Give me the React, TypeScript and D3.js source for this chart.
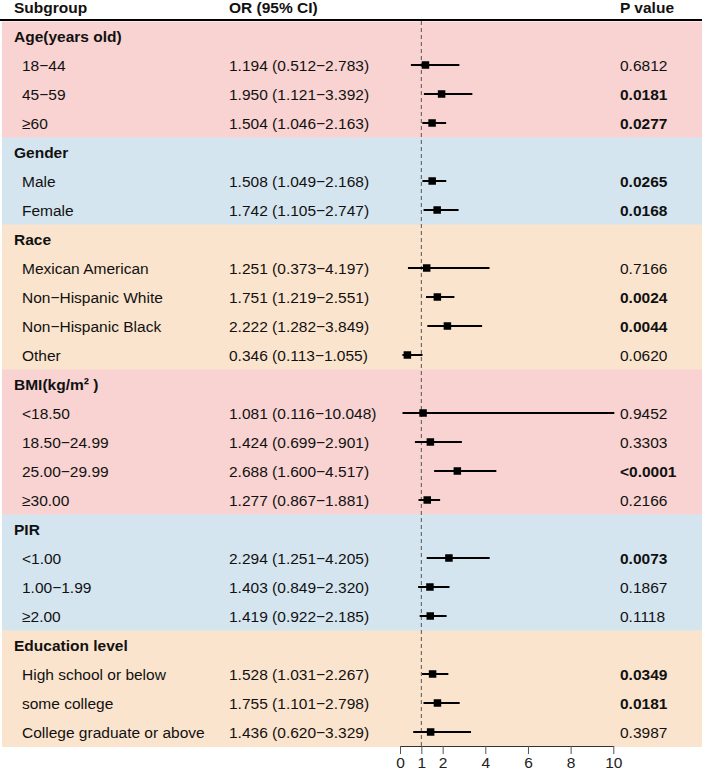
import { useEffect, useRef } from 'react'
import * as d3 from 'd3'

// rows of the forest plot, in drawing order; group headers have no estimate
const labels = [
  'Age(years old)', '18−44', '45−59', '≥60',
  'Gender', 'Male', 'Female',
  'Race', 'Mexican American', 'Non−Hispanic White', 'Non−Hispanic Black', 'Other',
  'BMI(kg/m² )', '<18.50', '18.50−24.99', '25.00−29.99', '≥30.00',
  'PIR', '<1.00', '1.00−1.99', '≥2.00',
  'Education level', 'High school or below', 'some college', 'College graduate or above',
]
const isHeader = [
  true, false, false, false,
  true, false, false,
  true, false, false, false, false,
  true, false, false, false, false,
  true, false, false, false,
  true, false, false, false,
]
// which colour band each row belongs to
const bandOf = [
  0, 0, 0, 0,
  1, 1, 1,
  2, 2, 2, 2, 2,
  0, 0, 0, 0, 0,
  1, 1, 1, 1,
  2, 2, 2, 2,
]
const orValues = [
  null, 1.194, 1.950, 1.504,
  null, 1.508, 1.742,
  null, 1.251, 1.751, 2.222, 0.346,
  null, 1.081, 1.424, 2.688, 1.277,
  null, 2.294, 1.403, 1.419,
  null, 1.528, 1.755, 1.436,
]
const lowerCI = [
  null, 0.512, 1.121, 1.046,
  null, 1.049, 1.105,
  null, 0.373, 1.219, 1.282, 0.113,
  null, 0.116, 0.699, 1.600, 0.867,
  null, 1.251, 0.849, 0.922,
  null, 1.031, 1.101, 0.620,
]
const upperCI = [
  null, 2.783, 3.392, 2.163,
  null, 2.168, 2.747,
  null, 4.197, 2.551, 3.849, 1.055,
  null, 10.048, 2.901, 4.517, 1.881,
  null, 4.205, 2.320, 2.185,
  null, 2.267, 2.798, 3.329,
]
const pValues = [
  '', '0.6812', '0.0181', '0.0277',
  '', '0.0265', '0.0168',
  '', '0.7166', '0.0024', '0.0044', '0.0620',
  '', '0.9452', '0.3303', '<0.0001', '0.2166',
  '', '0.0073', '0.1867', '0.1118',
  '', '0.0349', '0.0181', '0.3987',
]
const xTicks = [0, 1, 2, 4, 6, 8, 10]
const bandColors = ['#f8d3d1', '#d5e5f0', '#fbe4cd']

const W = 702
const H = 771
const FONT = '"Liberation Sans", Arial, sans-serif'

export default function App() {
  const svgRef = useRef<SVGSVGElement>(null)

  useEffect(() => {
    if (!svgRef.current) return
    const svg = d3.select(svgRef.current)
    svg.selectAll('*').remove()

    const rowTop = 21.5
    const rowH = 29
    const yMid = (i: number) => rowTop + rowH * i + rowH / 2
    const x = d3.scaleLinear().domain([0, 10]).range([400, 613.3])
    const plotBottom = rowTop + rowH * labels.length

    const fmt = (v: number) => v.toFixed(3)

    // colour bands
    svg.append('g')
      .selectAll('rect')
      .data(labels)
      .enter()
      .append('rect')
      .attr('x', 2)
      .attr('y', (_, i) => rowTop + rowH * i)
      .attr('width', W - 2)
      .attr('height', rowH + 0.5)
      .attr('fill', (_, i) => bandColors[bandOf[i]])

    // column headers
    const head = svg.append('g')
      .attr('font-family', FONT)
      .attr('font-size', '15.5px')
      .attr('font-weight', 'bold')
      .attr('fill', '#111')
    head.append('text').attr('x', 14).attr('y', 13).text('Subgroup')
    head.append('text').attr('x', 229).attr('y', 13).text('OR (95% CI)')
    head.append('text').attr('x', 620).attr('y', 13).text('P value')

    svg.append('line')
      .attr('x1', 0).attr('x2', W)
      .attr('y1', 20).attr('y2', 20)
      .attr('stroke', '#000')
      .attr('stroke-width', 2)

    // text columns
    const txt = svg.append('g')
      .attr('font-family', FONT)
      .attr('font-size', '15.5px')
      .attr('fill', '#111')

    labels.forEach((lab, i) => {
      const y = yMid(i) + 5.5
      txt.append('text')
        .attr('x', isHeader[i] ? 14 : 22)
        .attr('y', y)
        .attr('font-weight', isHeader[i] ? 'bold' : 'normal')
        .text(lab)
      const or = orValues[i]
      const lo = lowerCI[i]
      const hi = upperCI[i]
      if (or == null || lo == null || hi == null) return
      txt.append('text')
        .attr('x', 229)
        .attr('y', y)
        .text(`${fmt(or)} (${fmt(lo)}−${fmt(hi)})`)
      const p = pValues[i]
      const sig = p.startsWith('<') || parseFloat(p) < 0.05
      txt.append('text')
        .attr('x', 620)
        .attr('y', y)
        .attr('font-weight', sig ? 'bold' : 'normal')
        .text(p)
    })

    // reference line at OR = 1
    svg.append('line')
      .attr('x1', x(1)).attr('x2', x(1))
      .attr('y1', 21).attr('y2', plotBottom)
      .attr('stroke', '#555')
      .attr('stroke-width', 1)
      .attr('stroke-dasharray', '4,3')

    // CIs and point estimates
    const marks = svg.append('g')
    labels.forEach((_, i) => {
      const or = orValues[i]
      const lo = lowerCI[i]
      const hi = upperCI[i]
      if (or == null || lo == null || hi == null) return
      const y = yMid(i)
      marks.append('line')
        .attr('x1', x(lo)).attr('x2', x(hi))
        .attr('y1', y).attr('y2', y)
        .attr('stroke', '#000')
        .attr('stroke-width', 2)
      const s = 7.5
      marks.append('rect')
        .attr('x', x(or) - s / 2)
        .attr('y', y - s / 2)
        .attr('width', s)
        .attr('height', s)
        .attr('fill', '#000')
    })

    // x axis
    const axisY = 746
    const axis = svg.append('g')
      .attr('transform', `translate(0,${axisY})`)
      .call(d3.axisBottom(x).tickValues(xTicks).tickFormat(d3.format('d')).tickSize(8).tickSizeOuter(0))
    axis.select('.domain').attr('stroke', '#333').attr('stroke-width', 1)
    axis.selectAll('.tick line').attr('stroke', '#555')
    axis.selectAll('.tick text')
      .attr('font-family', FONT)
      .attr('font-size', '15.5px')
      .attr('fill', '#222')
      .attr('dy', '0')
      .attr('y', 22)
  }, [])

  return (
    <svg
      ref={svgRef}
      width={W}
      height={H}
      style={{ position: 'absolute', left: 0, top: 0, background: '#fff', display: 'block' }}
    />
  )
}
